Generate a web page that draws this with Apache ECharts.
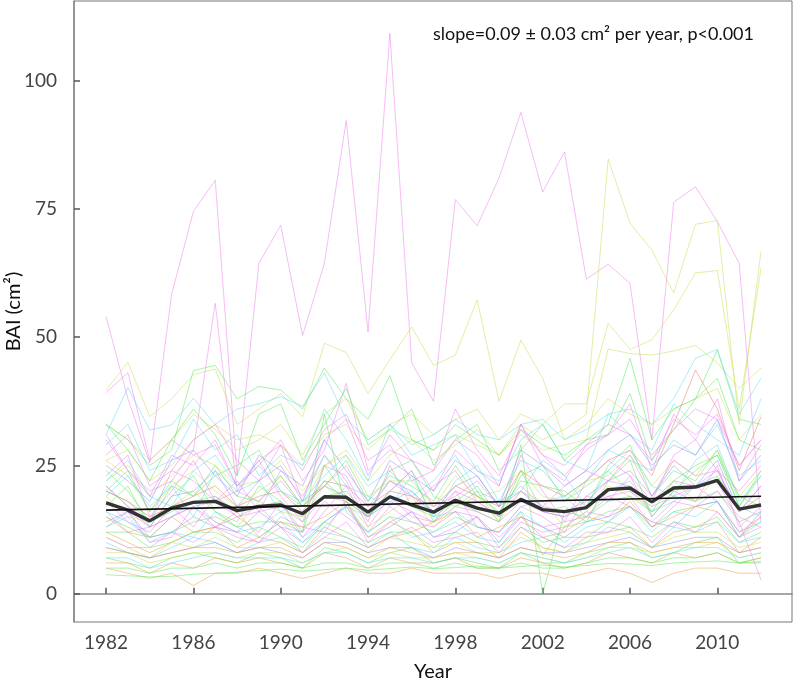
<!DOCTYPE html>
<html><head><meta charset="utf-8">
<script src="https://cdn.jsdelivr.net/npm/echarts@6/dist/echarts.min.js"></script>
<style>html,body{margin:0;padding:0;background:#fff}#c{width:793px;height:679px}</style>
</head><body><div id="c"></div>
<script>
const years = [1982,1983,1984,1985,1986,1987,1988,1989,1990,1991,1992,1993,1994,1995,1996,1997,1998,1999,2000,2001,2002,2003,2004,2005,2006,2007,2008,2009,2010,2011,2012];
const xTicks = [1982,1986,1990,1994,1998,2002,2006,2010];
const yTicks = [0,25,50,75,100];

// mean BAI across trees (thick dark line)
const meanBAI = [17.7,16.3,14.2,16.7,17.8,18.0,16.2,17.0,17.3,15.6,18.9,18.8,15.9,18.9,17.3,15.9,18.2,16.7,15.7,18.4,16.4,16.0,16.8,20.3,20.6,17.9,20.6,20.8,22.1,16.5,17.3];
// linear trend endpoints
const trendYears = [1982,2012];
const trendBAI = [16.3,19.0];

// individual trees (faint lines)
const treeE  = [54,38,25.5,58.3,74.5,80.6,23,64.4,71.8,50.3,64.4,92.2,51,109.2,45,37.5,76.8,71.7,81,93.8,78.3,86.1,61.3,64.2,60.5,30,76.3,79.3,72.5,64.4,14];
const treeF  = [30,24,20,22,28,56.6,20,18,22,17,21,25,17,22,19,16,20,18,15,20,17,16,18,22,21,18,22,21,24,16,19];
const treeD  = [39.2,43.1,26,30,27,29,21,25,30,22,28,41,24,28,26,24,36,28,23,32,27,25,29,33,31,26,34,31,35,25,30];
const treeY1 = [22,25,19,23,27,25,21,22,26,20,25,28,22,27,30,26,29,32,27,33,30,32,35,84.7,72.2,67,58.6,72,72.7,33,66.7];
const treeY2 = [33,30,26,30,35,32,28,30,33,27,35,38,30,33,35,31,34,36,30,35,33,37,37,52.7,47.6,49.5,55.3,62.5,63,36,63.4];
const treeY3 = [39.7,45.1,34.5,38,42.7,43.8,33,36,39,34.5,48.8,47,39,45.6,52,44.5,46.5,57.3,37.5,49.4,42,30,33,38,35,33,36,38,40,30,35];
const treeH  = [26,28,22,25,30,33,30,31,29,25,31,33,28,32,30,28,31,29,27,31,28,29,30,47.7,46.8,46.5,47.3,48.4,45,40,44];
const treeB  = [33,30,25,28,43.5,44.5,38,40.4,39.7,36,44,38,34,42.5,30,28,33,30,27,32,29,27,30,33,45.9,30,36,38,47.5,34,33];
const treeC  = [31,40.2,31.9,32.9,38.1,33,36,37,38.4,36.5,43,34,30,33,29,31,34,31,30,33,34,30,32,35,36,33,38,45.9,47.6,35,42];
const treeG0 = [20,18,14,16,18,19,16,17,18,15,19,20,15,19,17,15,18,16,14,29,0,16,15,18,19,16,19,18,20,14,16];
const treeG1 = [15,13,11,12,14,15,13,14,14,12,35,16,12,15,14,12,15,13,12,16,7.5,13,14,16,17,13,16,17,18,12,14];
const treeP12 = [18,16,13,15,17,18,15,16,17,14,19,18,15,18,16,14,17,16,14,18,16,15,17,19,20,17,19,21,22,14,2.7];
const treeR  = [20,18,15,17,19,21,17,19,20,16,22,21,17,20,19,17,21,19,17,24,21,19,22,26,28,23,33,43.6,36,24,34.5];
const t01 = [31,24,19,27,25,30,21,26,29,18,30,34,23,31,26,20,28,24,21,33,25,22,29,31,37,24,35,30,38,22,29];
const t02 = [24,20,14,21,19,23,25,28,20,17,22,18,15,24,26,19,17,20,14,23,25,18,21,24,20,16,22,25,27,17,23];
const t03 = [16,14,11,15,18,14,12,13,16,11,14,17,15,18,20,15,16,13,12,17,18,19,15,20,22,16,18,21,23,17,15];
const t04 = [12,10,8,10,12,13,9,11,10,8,13,11,9,11,12,8,10,10,7,12,9,8,11,12,13,9,12,13,14,8,11];
const t05 = [21,17,13,19,20,24,17,22,25,18,21,19,16,22,20,16,21,23,17,20,16,15,19,22,24,19,25,21,26,16,21];
const t06 = [26,23,16,21,24,20,17,20,23,17,25,27,19,22,22,17,23,19,20,24,19,18,22,23,27,21,26,23,28,19,24];
const t07 = [13,16,10,11,17,14,12,10,15,13,12,18,10,14,16,11,13,15,9,14,12,13,16,15,19,13,17,21,18,12,15];
const t08 = [7,6,5,7,8,7,6,8,7,5,9,8,6,8,9,6,7,6,5,8,6,6,8,9,10,7,8,10,11,6,7];
const t09 = [29,33,24,26,34,28,31,23,27,25,36,30,22,33,27,29,31,24,22,30,33,26,24,35,31,28,37,33,30,27,38];
const t10 = [18,14,12,17,13,19,15,12,18,11,16,21,13,19,15,14,20,13,12,17,15,12,19,18,23,15,20,18,25,13,17];
const t11 = [33,28,22,30,36,31,23,35,37,26,33,40,29,32,36,25,30,33,24,28,33,26,30,31,39,26,32,38,42,30,28];
const t12 = [6,6,4,6,5,7,6,7,6,5,8,7,5,7,6,6,7,5,5,7,6,5,6,8,7,6,8,7,8,6,7];
const t13 = [10,8,7,9,11,10,8,10,11,8,12,11,9,12,9,8,11,9,8,10,11,9,10,13,12,9,13,12,14,10,11];
const t14 = [14,16,11,12,15,13,12,16,13,10,14,17,11,13,16,11,12,15,10,15,13,11,14,15,17,14,13,17,18,11,16];
const t15 = [23,27,15,20,26,18,22,16,24,19,27,22,14,25,17,21,24,18,15,27,20,14,22,26,23,18,27,30,24,20,25];
const t16 = [12,12,9,10,12,12,10,13,11,9,14,12,10,12,12,9,12,10,9,13,10,11,11,14,13,11,14,13,15,10,12];
const t17 = [11,9,7,10,9,11,9,9,10,8,11,10,8,11,10,9,10,8,8,11,9,8,10,11,12,9,11,12,12,9,10];
const t18 = [19,23,17,21,15,24,20,22,16,18,27,21,19,17,23,15,22,25,18,20,26,23,17,24,28,21,19,26,29,18,23];
const t19 = [15,12,11,15,12,13,16,11,14,13,15,18,11,14,12,14,16,11,13,15,11,12,15,14,18,13,15,17,16,11,15];
const t20 = [27,31,21,24,30,33,26,22,29,24,32,35,26,29,22,24,30,27,21,33,27,23,28,31,34,27,32,36,34,25,30];
const t21 = [9,8,7,8,9,10,8,9,8,7,10,10,8,9,9,7,9,8,7,9,8,8,9,10,11,9,10,11,11,8,9];
const t22 = [17,21,13,19,23,16,14,21,18,12,25,19,15,20,24,14,18,21,15,24,16,17,14,22,26,15,20,24,27,19,17];
const t23 = [22,26,19,17,24,27,21,25,20,18,23,27,21,24,19,22,27,20,18,26,24,19,22,28,26,24,30,27,33,23,26];
const t24 = [19,15,14,17,20,16,13,18,16,15,21,18,13,16,19,13,17,19,14,20,18,13,16,21,19,17,22,18,23,16,19];
const t25 = [11,9,9,12,10,13,11,10,13,8,11,14,9,11,13,10,11,12,8,13,11,9,12,12,15,10,14,12,16,11,13];
const t26 = [9,8,7,8,9,9,8,9,9,7,10,9,7,9,8,7,8,8,7,9,8,7,8,10,10,8,9,10,10,8,9];
const t27 = [5,5,4,5,5,6,5,6,6,5,6,6,5,6,6,5,6,5,5,6,5,5,6,7,7,6,7,7,8,6,6];
const t28 = [13,15,10,12,11,16,13,11,14,10,13,17,12,15,11,12,14,11,10,16,13,10,13,14,17,12,16,15,18,11,14];
const t29 = [25,22,18,26,28,23,19,27,24,21,30,24,18,26,23,20,26,23,17,28,25,21,24,28,31,25,29,27,34,22,27];
const t30 = [16,12,13,15,17,13,15,17,13,12,18,15,12,17,14,13,16,15,11,15,13,14,15,19,17,14,18,17,20,15,13];
const t31 = [8,8,6,7,8,8,7,8,8,6,8,9,7,8,7,7,8,7,6,8,7,6,7,9,9,8,9,9,10,7,8];
const t32 = [20,24,16,22,19,25,19,18,23,17,21,26,18,23,21,18,25,19,16,22,21,20,17,25,29,19,24,22,28,17,24];
const t33 = [5,4,3,4,1.6,4,4,5,4,3,4,5,4,4,5,4,4,4,3,4,4,3,4,5,4,2.2,4,5,5,4,4];
const t34 = [7,7,5,6,7,8,7,7,7,6,8,8,6,7,7,6,7,7,6,8,7,6,7,8,9,7,8,9,9,7,8];
const t35 = [21,17,14,24,22,18,20,26,19,14,25,23,15,20,24,17,19,22,17,21,17,21,24,22,27,19,26,23,24,16,21];
const t36 = [3.7,3.5,3.3,3.4,3.8,4.0,4.2,4.5,4.8,4.4,4.7,5.0,4.6,4.9,5.2,4.9,5.1,5.4,5.0,5.3,5.6,5.2,5.5,5.9,5.8,5.5,6.0,6.2,6.4,6.0,6.3];

const PINK='#f07cf0', GREEN='#55e855', CYAN='#55def0', YG='#c8de4c', ORANGE='#e8a040', LAV='#8f8ff0', RED='#f07070';
const trees = [
  [treeE,PINK],[treeF,PINK],[treeD,PINK],[treeY1,YG],[treeY2,YG],[treeY3,YG],[treeH,YG],[treeB,GREEN],[treeC,CYAN],
  [treeG0,GREEN],[treeG1,GREEN],[treeP12,PINK],[treeR,RED],
  [t01,PINK],[t02,GREEN],[t03,CYAN],[t04,ORANGE],[t05,LAV],[t06,YG],[t07,PINK],[t08,GREEN],[t09,CYAN],[t10,PINK],
  [t11,GREEN],[t12,ORANGE],[t13,CYAN],[t14,LAV],[t15,PINK],[t16,GREEN],[t17,YG],[t18,CYAN],[t19,ORANGE],[t20,PINK],
  [t21,LAV],[t22,GREEN],[t23,CYAN],[t24,YG],[t25,PINK],[t26,ORANGE],[t27,GREEN],[t28,CYAN],[t29,LAV],[t30,PINK],
  [t31,YG],[t32,GREEN],[t33,ORANGE],[t34,CYAN],[t35,PINK],[t36,GREEN]
];

const series = trees.map(([vals,col]) => ({
  type:'line', data: years.map((y,i)=>[y, vals[i]]), symbol:'none', silent:true,
  lineStyle:{color:col, width:1, opacity:0.5}, z:1
}));
series.push({type:'line', data: years.map((y,i)=>[y, meanBAI[i]]), symbol:'none', silent:true,
  lineStyle:{color:'#333', width:3.4}, z:5});
series.push({type:'line', data: trendYears.map((y,i)=>[y, trendBAI[i]]), symbol:'none', silent:true,
  lineStyle:{color:'#111', width:1.6}, z:6});

const chart = echarts.init(document.getElementById('c'), null, {renderer:'canvas'});
chart.setOption({
  animation:false,
  grid:{left:74, right:1, top:1, bottom:57, outerBoundsMode:'none', containLabel:false,
    show:true, borderColor:'#777', borderWidth:1, backgroundColor:'transparent'},
  xAxis:{type:'value', min:1980.53, max:2013.42,
    name:'Year', nameLocation:'middle', nameGap:40, nameMoveOverlap:false,
    nameTextStyle:{fontFamily:'Lato', fontSize:20, color:'#111'},
    axisLine:{show:true, lineStyle:{color:'#888', width:1.5}},
    axisTick:{show:true, inside:true, length:6, customValues:xTicks, lineStyle:{color:'#555', width:1.5}},
    axisLabel:{customValues:xTicks, formatter:v=>String(v), fontFamily:'Lato', fontSize:19, color:'#444', margin:11},
    splitLine:{show:false}},
  yAxis:{type:'value', min:-5.5, max:115.5,
    name:'BAI (cm²)', nameLocation:'middle', nameGap:50, nameMoveOverlap:false,
    nameTextStyle:{fontFamily:'Lato', fontSize:20, color:'#111'},
    axisLine:{show:true, lineStyle:{color:'#888', width:1.5}},
    axisTick:{show:true, inside:true, length:6, customValues:yTicks, lineStyle:{color:'#555', width:1.5}},
    axisLabel:{customValues:yTicks, fontFamily:'Lato', fontSize:19, color:'#444', margin:17},
    splitLine:{show:false}},
  graphic:[{type:'text', left:433, top:25,
    style:{text:'slope=0.09 ± 0.03 cm² per year, p<0.001', font:'18px Lato', fill:'#111'}}],
  series: series
});
</script></body></html>
